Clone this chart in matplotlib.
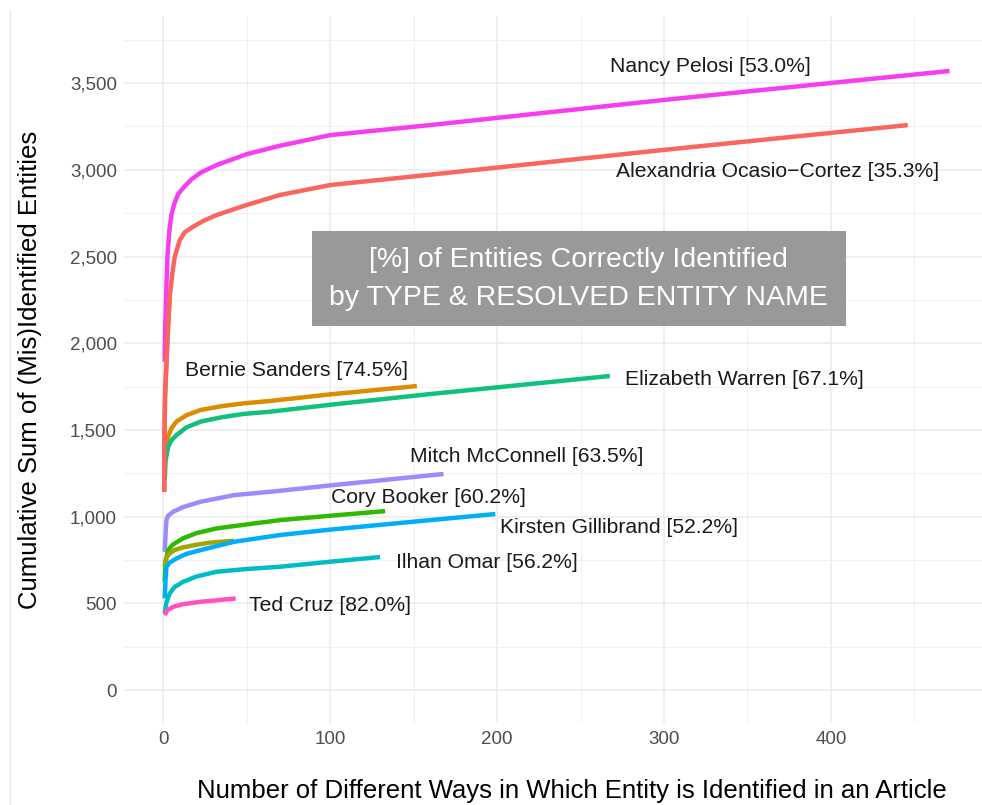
import matplotlib; matplotlib.use("Agg")
import matplotlib.pyplot as plt
from matplotlib.ticker import MultipleLocator, FixedLocator, FuncFormatter
from matplotlib.lines import Line2D
from matplotlib.patches import Rectangle

plt.rcParams["font.family"] = ["Liberation Sans", "DejaVu Sans"]

# cumulative sums, one series per entity
pelosi_x = [1, 1.2, 1.8, 2.6, 3.8, 5, 6.8, 9, 12.7, 17, 22.7, 32.7, 50, 70.5, 100, 160, 300, 471]
pelosi_y = [1893, 2050, 2268, 2500, 2653, 2740, 2807, 2860, 2903, 2945, 2985, 3030, 3090, 3140, 3200, 3258, 3403, 3570]
aoc_x = [0.7, 0.9, 1.2, 2, 3, 4, 5.5, 7, 10, 13, 18, 24, 32, 50, 70, 100, 160, 300, 446]
aoc_y = [1143, 1500, 1700, 1884, 2100, 2268, 2400, 2499, 2595, 2640, 2672, 2705, 2739, 2797, 2855, 2912, 2972, 3115, 3258]
sanders_x = [1, 1.5, 3, 5, 8, 14, 22.5, 35, 48, 64, 100, 152]
sanders_y = [1307, 1400, 1461, 1510, 1548, 1585, 1615, 1637, 1653, 1667, 1705, 1753]
warren_x = [1, 1.5, 3, 5, 8, 14, 22.5, 35, 48, 64, 100, 160, 267.6]
warren_y = [1211, 1320, 1403, 1440, 1470, 1515, 1548, 1573, 1592, 1605, 1645, 1707, 1811]
mcconnell_x = [1, 1.5, 2, 3, 6, 12, 22.5, 42.5, 70, 100, 168]
mcconnell_y = [797, 900, 980, 1005, 1028, 1055, 1086, 1124, 1149, 1180, 1246]
booker_x = [1, 1.5, 3, 6, 12, 20, 32, 50, 70, 100, 133]
booker_y = [624, 740, 807, 840, 875, 905, 932, 955, 980, 1005, 1032]
olive_x = [1, 1.5, 2.5, 4, 7, 12, 20, 28, 42.5]
olive_y = [711, 750, 770, 788, 808, 823, 838, 850, 861]
gillibrand_x = [1, 1.5, 2, 4, 8, 14, 22.5, 42.5, 70, 100, 160, 199]
gillibrand_y = [528, 640, 711, 735, 759, 785, 807, 855, 894, 925, 980, 1015]
omar_x = [1, 2, 4, 7, 12, 20, 32, 50, 70, 100, 130]
omar_y = [442, 505, 557, 595, 624, 655, 682, 698, 711, 740, 767]
cruz_x = [1, 2.5, 6, 12, 22.5, 43.5]
cruz_y = [432, 460, 480, 495, 509, 528]

labels = ["Nancy Pelosi [53.0%]", "Alexandria Ocasio\u2212Cortez [35.3%]", "Bernie Sanders [74.5%]",
          "Elizabeth Warren [67.1%]", "Mitch McConnell [63.5%]", "Cory Booker [60.2%]", "",
          "Kirsten Gillibrand [52.2%]", "Ilhan Omar [56.2%]", "Ted Cruz [82.0%]"]
series = [(pelosi_x, pelosi_y), (aoc_x, aoc_y), (sanders_x, sanders_y), (warren_x, warren_y),
          (mcconnell_x, mcconnell_y), (booker_x, booker_y), (olive_x, olive_y),
          (gillibrand_x, gillibrand_y), (omar_x, omar_y), (cruz_x, cruz_y)]
colors = ["#F63DF0", "#F8665F", "#DC8C00", "#10C07D", "#9A8CFF", "#2DBA00", "#A3A500",
          "#00AEF6", "#00BDC4", "#FF52BC"]
x_ticks = [0, 100, 200, 300, 400]
# label anchor points (data units, centred)
label_pos = [(328, 3593), (368, 2993), (80, 1845), (348, 1788), (218, 1344), (159, 1113),
             None, (273, 940), (194, 738), (100, 490)]

fig = plt.figure(figsize=(9.82, 8.05), dpi=100)
ax = fig.add_axes([124/982, (805-723)/805, (1020-124)/982, (723-16)/805])
ax.set_xlim(-23.4, 513.2); ax.set_ylim(-190, 3887)

ax.xaxis.set_major_locator(FixedLocator(x_ticks)); ax.xaxis.set_minor_locator(MultipleLocator(50))
ax.yaxis.set_major_locator(MultipleLocator(500)); ax.yaxis.set_minor_locator(MultipleLocator(250))
ax.yaxis.set_major_formatter(FuncFormatter(lambda v, p: f"{int(v):,}"))
ax.grid(which="major", color="#EBEBEB", lw=1.1)
ax.grid(which="minor", color="#F0F0F0", lw=0.7)
ax.set_axisbelow(True)
for s in ax.spines.values(): s.set_visible(False)
ax.tick_params(which="both", length=0)
ax.tick_params(axis="y", labelsize=13.5, labelcolor="#4D4D4D", pad=5)
ax.tick_params(axis="x", labelsize=13.5, labelcolor="#4D4D4D", pad=6)

for (xs, ys), c in zip(series, colors):
    ax.plot(xs, ys, color=c, lw=3.2, solid_capstyle="butt", solid_joinstyle="round")
# red line sits on top of magenta near the origin
ax.plot(aoc_x[:6], aoc_y[:6], color=colors[1], lw=3.2, solid_capstyle="butt")

for lab, pos in zip(labels, label_pos):
    if pos:
        ax.text(pos[0], pos[1], lab, ha="center", va="center", fontsize=15.2, color="#1A1A1A")

ax.add_patch(Rectangle((89, 2099), 320, 548, fc="#999999", ec="none", zorder=3))
ax.text(249, 2373, "[%] of Entities Correctly Identified\nby TYPE & RESOLVED ENTITY NAME",
        ha="center", va="center", fontsize=20.5, color="white", linespacing=1.6, zorder=4)

ax.set_xlabel("Number of Different Ways in Which Entity is Identified in an Article", fontsize=18.5, labelpad=22)
ax.set_ylabel("Cumulative Sum of (Mis)Identified Entities", fontsize=18.5, labelpad=20)

fig.add_artist(Line2D([10/982, 10/982], [0, (805-10)/805], color="#E8E8E8", lw=1))
fig.savefig("out.png", dpi=100)
